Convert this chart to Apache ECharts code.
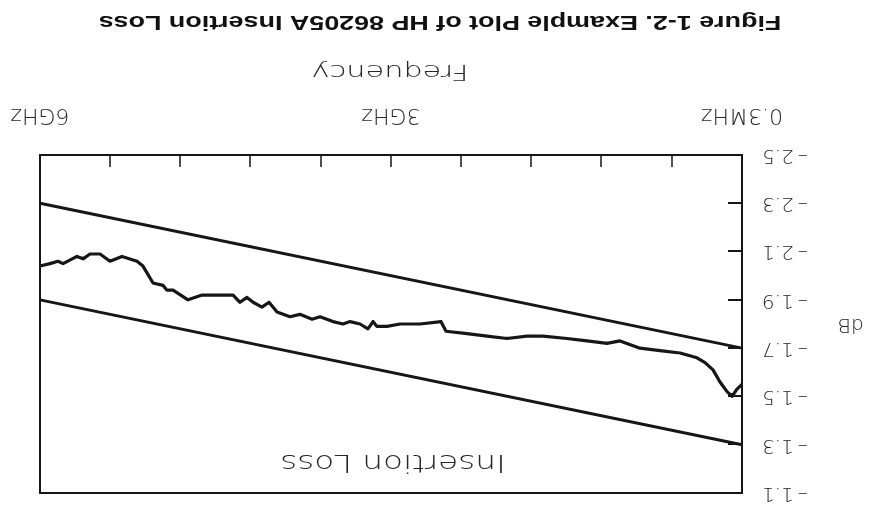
<!DOCTYPE html>
<html><head><meta charset="utf-8">
<script src="https://cdn.jsdelivr.net/npm/echarts@6/dist/echarts.min.js"></script>
<style>html,body{margin:0;padding:0;background:#fff;}#c{width:869px;height:506px;transform:rotate(180deg);}</style>
</head><body><div id="c"></div>
<script>
// Frequency in GHz (0 = 0.3 MHz start), measured insertion loss in dB
const freqGHz = [0, 0.043, 0.085, 0.128, 0.188, 0.248, 0.316, 0.385, 0.530, 0.701, 0.872, 1.043, 1.154, 1.325, 1.496, 1.701, 1.838, 2.009, 2.179, 2.350, 2.530, 2.573, 2.752, 2.923, 3.034, 3.120, 3.154, 3.197, 3.265, 3.350, 3.410, 3.496, 3.607, 3.675, 3.778, 3.863, 3.974, 4.043, 4.103, 4.179, 4.231, 4.291, 4.350, 4.615, 4.735, 4.863, 4.915, 4.949, 5.034, 5.120, 5.171, 5.299, 5.402, 5.487, 5.573, 5.632, 5.684, 5.803, 5.846, 5.915, 6.0];
const lossDb = [-1.55, -1.53, -1.50, -1.52, -1.56, -1.61, -1.64, -1.66, -1.68, -1.69, -1.70, -1.73, -1.72, -1.73, -1.74, -1.75, -1.75, -1.74, -1.75, -1.76, -1.77, -1.81, -1.80, -1.80, -1.79, -1.79, -1.81, -1.78, -1.80, -1.81, -1.80, -1.81, -1.83, -1.82, -1.84, -1.83, -1.85, -1.89, -1.87, -1.89, -1.91, -1.89, -1.92, -1.92, -1.90, -1.94, -1.94, -1.96, -1.97, -2.04, -2.06, -2.08, -2.06, -2.09, -2.09, -2.07, -2.08, -2.05, -2.06, -2.05, -2.04];
const limitFreq = [0, 6];
const upperLimitDb = [-1.3, -1.9];
const lowerLimitDb = [-1.7, -2.3];
const xTickValues = [0, 0.6, 1.2, 1.8, 2.4, 3.0, 3.6, 4.2, 4.8, 5.4, 6.0];
const xLabelValues = [0, 3, 6];
const xLabels = ['0.3MHz', '3GHz', '6GHz'];
const yTickValues = [-2.5, -2.3, -2.1, -1.9, -1.7, -1.5, -1.3, -1.1];
const yTickLabels = ['-2.5', '-2.3', '-2.1', '-1.9', '-1.7', '-1.5', '-1.3', '-1.1'];
const titleText = 'Figure 1-2. Example Plot of HP 86205A Insertion Loss';
const seriesName = 'Insertion Loss';
const xName = 'Frequency';
const yName = 'dB';

function pick(vals, labels, v) {
  for (let i = 0; i < vals.length; i++) if (Math.abs(vals[i] - v) < 1e-6) return labels[i];
  return '';
}
const ink = '#161616';
const txt = '#262626';
const plotFont = 'DejaVu Sans';

const chart = echarts.init(document.getElementById('c'), null, {renderer: 'canvas'});
chart.setOption({
  backgroundColor: '#fff',
  animation: false,
  graphic: [{
    type: 'text', x: 429, y: 484, scaleX: 1.28, silent: true,
    style: {text: titleText, font: 'bold 21px "Liberation Sans"', fill: '#111', textAlign: 'center', textVerticalAlign: 'middle'}
  }, {
    type: 'text', x: 479, y: 435, scaleX: 1.38, silent: true,
    style: {text: xName, font: 'lighter 22px "DejaVu Sans"', fill: txt, textAlign: 'center', textVerticalAlign: 'middle'}
  }, {
    type: 'text', x: 476, y: 45, scaleX: 1.36, silent: true,
    style: {text: seriesName, font: 'lighter 24px "DejaVu Sans"', fill: txt, textAlign: 'center', textVerticalAlign: 'middle'}
  }],
  grid: {left: 127, right: 40, top: 13, bottom: 155, show: true, borderColor: ink, borderWidth: 2, outerBoundsMode: 'none'},
  xAxis: {
    type: 'value', min: 0, max: 6,
    axisLine: {show: true, onZero: false, lineStyle: {color: ink, width: 2}},
    axisTick: {show: true, inside: true, length: 12, customValues: xTickValues, lineStyle: {color: ink, width: 1.5}},
    axisLabel: {customValues: xLabelValues, margin: 29, fontFamily: plotFont, fontWeight: 'lighter', fontSize: 22, color: txt,
      formatter: v => pick(xLabelValues, xLabels, v)},
    splitLine: {show: false}
  },
  yAxis: {
    type: 'value', min: -2.5, max: -1.1,
    name: yName, nameLocation: 'middle', nameRotate: 0, nameGap: 96,
    nameTextStyle: {fontFamily: plotFont, fontWeight: 'lighter', fontSize: 20, color: txt},
    axisLine: {show: true, onZero: false, lineStyle: {color: ink, width: 2}},
    axisTick: {show: true, inside: true, length: 14, customValues: yTickValues, lineStyle: {color: ink, width: 2}},
    axisLabel: {customValues: yTickValues, margin: 20, fontFamily: plotFont, fontWeight: 'lighter', fontSize: 20, color: txt,
      formatter: v => pick(yTickValues, yTickLabels, v).replace('-', '\u2013\u2009')},
    splitLine: {show: false}
  },
  series: [{
    type: 'line', name: 'limit-upper', data: limitFreq.map((f, i) => [f, upperLimitDb[i]]),
    showSymbol: false, lineStyle: {color: ink, width: 3}, silent: true
  }, {
    type: 'line', name: 'limit-lower', data: limitFreq.map((f, i) => [f, lowerLimitDb[i]]),
    showSymbol: false, lineStyle: {color: ink, width: 3}, silent: true
  }, {
    type: 'line', name: seriesName, data: freqGHz.map((f, i) => [f, lossDb[i]]),
    showSymbol: false, lineStyle: {color: ink, width: 3.2, join: 'round'}, silent: true
  }]
});
</script></body></html>
